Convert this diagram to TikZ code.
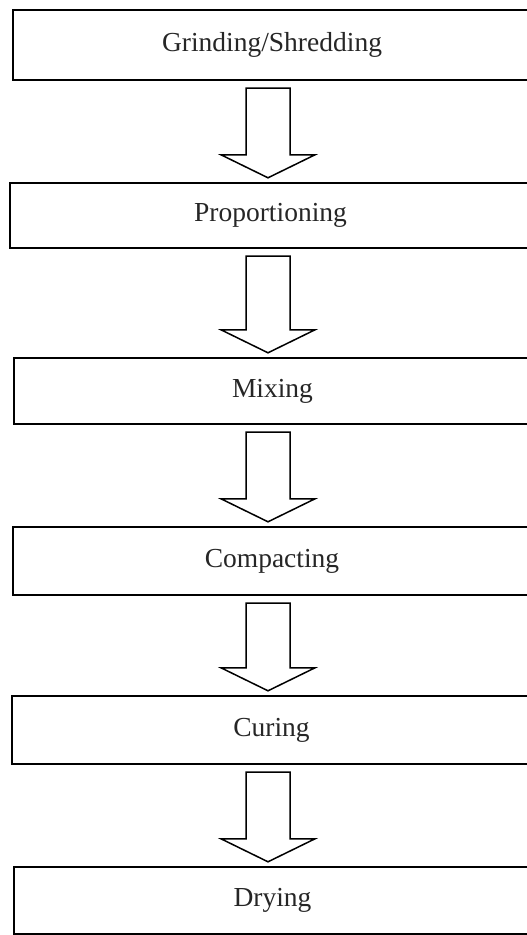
\documentclass[tikz,border=0pt]{standalone}
\usepackage{fontspec}
\setmainfont{Liberation Serif}
\usetikzlibrary{calc}
\tikzset{
  stepbox/.style={draw=black, line width=2.4pt, rectangle,
    inner sep=0pt, font=\fontsize{27.5}{30}\selectfont, text=black!85},
  arrowline/.style={draw=black, line width=1.5pt, line join=miter, fill=white}
}
\newcommand\blockarr[2]{%
  \draw[arrowline] let \p1=(#1.south), \p2=(#2.north) in
    (246pt,{\y1-7pt}) -- (290pt,{\y1-7pt}) -- (290pt,{\y2+27pt}) -- (315pt,{\y2+27pt})
    -- (268pt,{\y2+4pt}) -- (221pt,{\y2+27pt}) -- (246pt,{\y2+27pt}) -- cycle;}
\begin{document}
\begin{tikzpicture}[x=1pt,y=1pt]
\useasboundingbox (0,0) rectangle (527,-935);
\clip (0,0) rectangle (527,-935);
\node[stepbox, minimum width=518pt, minimum height=70pt] (b1) at (272,-45) {Grinding/Shredding};
\node[stepbox, minimum width=521pt, minimum height=65pt] (b2) at (270.5,-215.5) {Proportioning};
\node[stepbox, minimum width=517pt, minimum height=66pt] (b3) at (272.5,-391) {Mixing};
\node[stepbox, minimum width=518pt, minimum height=68pt] (b4) at (272,-561) {Compacting};
\node[stepbox, minimum width=519pt, minimum height=68pt] (b5) at (271.5,-730) {Curing};
\node[stepbox, minimum width=517pt, minimum height=67pt] (b6) at (272.5,-900.5) {Drying};
\blockarr{b1}{b2}
\blockarr{b2}{b3}
\blockarr{b3}{b4}
\blockarr{b4}{b5}
\blockarr{b5}{b6}
\end{tikzpicture}
\end{document}
